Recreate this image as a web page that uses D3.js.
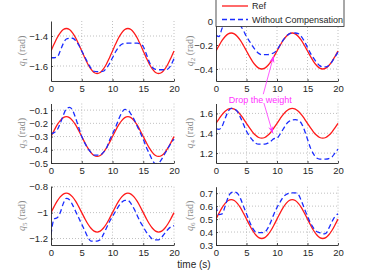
<!DOCTYPE html>
<html><head><meta charset="utf-8">
<script src="https://cdn.jsdelivr.net/npm/d3@7"></script>
<style>
body{margin:0;background:#fff;}
svg{display:block;font-family:"Liberation Sans",Arial,sans-serif;}
</style></head><body>
<svg id="c" width="374" height="277"></svg>
<script>
const time = [0,0.5,1,1.5,2,2.5,3,3.5,4,4.5,5,5.5,6,6.5,7,7.5,8,8.5,9,9.5,10,10.5,11,11.5,12,12.5,13,13.5,14,14.5,15,15.5,16,16.5,17,17.5,18,18.5,19,19.5,20];

const q1Ref = [-1.5,-1.454,-1.412,-1.379,-1.357,-1.35,-1.357,-1.379,-1.412,-1.454,-1.5,-1.546,-1.588,-1.621,-1.643,-1.65,-1.643,-1.621,-1.588,-1.546,-1.5,-1.454,-1.412,-1.379,-1.357,-1.35,-1.357,-1.379,-1.412,-1.454,-1.5,-1.546,-1.588,-1.621,-1.643,-1.65,-1.643,-1.621,-1.588,-1.546,-1.5];
const q1Comp = [-1.545,-1.545,-1.54,-1.5,-1.45,-1.42,-1.415,-1.415,-1.43,-1.46,-1.5,-1.54,-1.58,-1.615,-1.635,-1.638,-1.638,-1.635,-1.615,-1.585,-1.545,-1.505,-1.475,-1.455,-1.45,-1.448,-1.448,-1.448,-1.448,-1.452,-1.47,-1.52,-1.575,-1.61,-1.622,-1.625,-1.625,-1.625,-1.62,-1.595,-1.55];

const q2Ref = [-0.25,-0.204,-0.162,-0.129,-0.107,-0.1,-0.107,-0.129,-0.162,-0.204,-0.25,-0.296,-0.338,-0.371,-0.393,-0.4,-0.393,-0.371,-0.338,-0.296,-0.25,-0.204,-0.162,-0.129,-0.107,-0.1,-0.107,-0.129,-0.162,-0.204,-0.25,-0.296,-0.338,-0.371,-0.393,-0.4,-0.393,-0.371,-0.338,-0.296,-0.25];
const q2Comp = [-0.12,-0.13,-0.06,-0.03,-0.02,-0.015,-0.015,-0.025,-0.04,-0.08,-0.13,-0.17,-0.21,-0.245,-0.27,-0.28,-0.28,-0.28,-0.275,-0.265,-0.24,-0.2,-0.16,-0.128,-0.107,-0.1,-0.1,-0.105,-0.13,-0.17,-0.22,-0.27,-0.31,-0.345,-0.372,-0.383,-0.383,-0.37,-0.34,-0.3,-0.26];

const q3Ref = [-0.3,-0.254,-0.212,-0.179,-0.157,-0.15,-0.157,-0.179,-0.212,-0.254,-0.3,-0.346,-0.388,-0.421,-0.443,-0.45,-0.443,-0.421,-0.388,-0.346,-0.3,-0.254,-0.212,-0.179,-0.157,-0.15,-0.157,-0.179,-0.212,-0.254,-0.3,-0.346,-0.388,-0.421,-0.443,-0.45,-0.443,-0.421,-0.388,-0.346,-0.3];
const q3Comp = [-0.28,-0.27,-0.25,-0.2,-0.14,-0.09,-0.08,-0.1,-0.16,-0.23,-0.3,-0.35,-0.39,-0.42,-0.44,-0.44,-0.44,-0.42,-0.39,-0.33,-0.28,-0.23,-0.17,-0.12,-0.095,-0.1,-0.13,-0.17,-0.22,-0.27,-0.32,-0.38,-0.43,-0.48,-0.505,-0.5,-0.47,-0.43,-0.39,-0.35,-0.32];

const q4Ref = [1.5,1.546,1.588,1.621,1.643,1.65,1.643,1.621,1.588,1.546,1.5,1.454,1.412,1.379,1.357,1.35,1.357,1.379,1.412,1.454,1.5,1.546,1.588,1.621,1.643,1.65,1.643,1.621,1.588,1.546,1.5,1.454,1.412,1.379,1.357,1.35,1.357,1.379,1.412,1.454,1.5];
const q4Comp = [1.445,1.44,1.47,1.55,1.62,1.65,1.645,1.62,1.56,1.49,1.42,1.37,1.33,1.3,1.29,1.29,1.29,1.3,1.32,1.345,1.35,1.39,1.44,1.49,1.52,1.535,1.537,1.53,1.5,1.43,1.34,1.25,1.19,1.15,1.14,1.14,1.14,1.145,1.16,1.2,1.24];

const q5Ref = [-1,-0.954,-0.912,-0.879,-0.857,-0.85,-0.857,-0.879,-0.912,-0.954,-1,-1.046,-1.088,-1.121,-1.143,-1.15,-1.143,-1.121,-1.088,-1.046,-1,-0.954,-0.912,-0.879,-0.857,-0.85,-0.857,-0.879,-0.912,-0.954,-1,-1.046,-1.088,-1.121,-1.143,-1.15,-1.143,-1.121,-1.088,-1.046,-1];
const q5Comp = [-1.17,-1.05,-1.04,-1.0,-0.93,-0.89,-0.9,-0.94,-0.99,-1.04,-1.09,-1.14,-1.19,-1.22,-1.22,-1.22,-1.21,-1.17,-1.12,-1.07,-1.03,-0.99,-0.95,-0.92,-0.905,-0.905,-0.93,-0.97,-1.02,-1.07,-1.11,-1.15,-1.18,-1.205,-1.21,-1.21,-1.19,-1.16,-1.13,-1.11,-1.1];

const q6Ref = [0.5,0.546,0.588,0.621,0.643,0.65,0.643,0.621,0.588,0.546,0.5,0.454,0.412,0.379,0.357,0.35,0.357,0.379,0.412,0.454,0.5,0.546,0.588,0.621,0.643,0.65,0.643,0.621,0.588,0.546,0.5,0.454,0.412,0.379,0.357,0.35,0.357,0.379,0.412,0.454,0.5];
const q6Comp = [0.6,0.535,0.54,0.6,0.67,0.705,0.71,0.7,0.66,0.6,0.54,0.48,0.43,0.4,0.395,0.395,0.4,0.43,0.48,0.54,0.59,0.63,0.67,0.69,0.7,0.703,0.703,0.69,0.64,0.58,0.52,0.47,0.43,0.405,0.395,0.385,0.39,0.43,0.48,0.52,0.54];

const xTicks = [0,5,10,15,20];
const q1Ticks = [-1.6,-1.4];
const q2Ticks = [-0.4,-0.2,0];
const q3Ticks = [-0.5,-0.4,-0.3,-0.2,-0.1];
const q4Ticks = [1.2,1.4,1.6];
const q5Ticks = [-1.2,-1,-0.8];
const q6Ticks = [0.3,0.4,0.5,0.6,0.7];

const seriesNames = ["Ref","Without Compensation"];
const annotationText = "Drop the weight";
const xLabel = "time (s)";

const panels = [
  {idx:"1", ref:q1Ref, comp:q1Comp, domain:[-1.7,-1.3], ticks:q1Ticks, col:0, row:0},
  {idx:"2", ref:q2Ref, comp:q2Comp, domain:[-0.5,0], ticks:q2Ticks, col:1, row:0},
  {idx:"3", ref:q3Ref, comp:q3Comp, domain:[-0.5,-0.05], ticks:q3Ticks, col:0, row:1},
  {idx:"4", ref:q4Ref, comp:q4Comp, domain:[1.1,1.7], ticks:q4Ticks, col:1, row:1},
  {idx:"5", ref:q5Ref, comp:q5Comp, domain:[-1.25,-0.8], ticks:q5Ticks, col:0, row:2},
  {idx:"6", ref:q6Ref, comp:q6Comp, domain:[0.3,0.75], ticks:q6Ticks, col:1, row:2}
];

const colX = [[51,174],[216,338]];
const rowY = [[21,81],[103.5,163],[186.7,245]];
const labelX = [25,193];
const RED = "#ff1a1a", BLUE = "#1a2cff", AX = "#262626", MAG = "#ff33ff";

const svg = d3.select("#c");
const defs = svg.append("defs");
const scales = [];

panels.forEach((p,i)=>{
  const [x0,x1] = colX[p.col], [y0,y1] = rowY[p.row];
  const x = d3.scaleLinear().domain([0,20]).range([x0,x1]);
  const y = d3.scaleLinear().domain(p.domain).range([y1,y0]);
  scales.push({x,y});
  defs.append("clipPath").attr("id","clip"+i).append("rect")
    .attr("x",x0).attr("y",y0-0.5).attr("width",x1-x0+1).attr("height",y1-y0+1);
  const g = svg.append("g");
  // grid
  g.append("g").selectAll("line").data(xTicks.filter(d=>d>0)).join("line")
    .attr("x1",d=>x(d)).attr("x2",d=>x(d)).attr("y1",y0).attr("y2",y1)
    .attr("stroke","#b0b0b0").attr("stroke-width",0.8).attr("stroke-dasharray","1,2");
  g.append("g").selectAll("line").data(p.ticks.filter(d=>d!==p.domain[0])).join("line")
    .attr("x1",x0).attr("x2",x1).attr("y1",d=>y(d)).attr("y2",d=>y(d))
    .attr("stroke","#b0b0b0").attr("stroke-width",0.8).attr("stroke-dasharray","1,2");
  // lines
  const line = d3.line().x((d,k)=>x(time[k])).y(d=>y(d)).curve(d3.curveMonotoneX);
  const lg = g.append("g").attr("clip-path",`url(#clip${i})`);
  lg.append("path").datum(p.ref).attr("d",line).attr("fill","none")
    .attr("stroke",RED).attr("stroke-width",1.3);
  lg.append("path").datum(p.comp).attr("d",line).attr("fill","none")
    .attr("stroke",BLUE).attr("stroke-width",1.3).attr("stroke-dasharray","5,3");
  // axes
  const ax = g.append("g").attr("transform",`translate(0,${y1})`)
    .call(d3.axisBottom(x).tickValues(xTicks).tickSizeInner(-2).tickSizeOuter(0).tickPadding(4).tickFormat(d3.format("d")));
  const ay = g.append("g").attr("transform",`translate(${x0},0)`)
    .call(d3.axisLeft(y).tickValues(p.ticks).tickSizeInner(-2).tickSizeOuter(0).tickPadding(3).tickFormat(d3.format("~g")));
  [ax,ay].forEach(a=>{
    a.select(".domain").attr("stroke",AX).attr("stroke-width",0.9);
    a.selectAll(".tick line").attr("stroke",AX).attr("stroke-width",0.8);
    a.selectAll(".tick text").attr("fill",AX).attr("font-size",9.5)
      .attr("font-family","Liberation Sans, Arial, sans-serif");
  });
  // y label
  const yc = (y0+y1)/2;
  const t = g.append("text").attr("transform",`translate(${labelX[p.col]},${yc}) rotate(-90)`)
    .attr("text-anchor","middle").attr("fill","#8a8a8a")
    .attr("font-family","Liberation Serif, DejaVu Serif, serif").attr("font-size",10);
  t.append("tspan").attr("font-style","italic").text("q");
  t.append("tspan").attr("font-size",7).attr("dy",2).text(p.idx);
  t.append("tspan").attr("dy",-2).text(" (rad)");
});

// legend
const lgd = svg.append("g");
lgd.append("rect").attr("x",216).attr("y",-1).attr("width",128).attr("height",27.5)
  .attr("fill","#fff").attr("stroke",AX).attr("stroke-width",0.8);
[[RED,null,6],[BLUE,"5,3",19.5]].forEach(([c,dash,yy],k)=>{
  lgd.append("line").attr("x1",222).attr("x2",248).attr("y1",yy).attr("y2",yy)
    .attr("stroke",c).attr("stroke-width",1.3).attr("stroke-dasharray",dash);
  lgd.append("text").attr("x",252).attr("y",yy+3.3).attr("font-size",9).attr("fill",AX)
    .text(seriesNames[k]);
});

// annotation
const s2 = scales[1], s4 = scales[3];
const ann = svg.append("g");
ann.append("text").attr("x",s4.x(7.25)).attr("y",s4.y(1.71)).attr("text-anchor","middle")
  .attr("font-size",9).attr("fill",MAG).text(annotationText);
function arrow(xa,ya,xb,yb){
  ann.append("line").attr("x1",xa).attr("y1",ya).attr("x2",xb).attr("y2",yb)
    .attr("stroke",MAG).attr("stroke-width",0.8);
  const ang = Math.atan2(yb-ya,xb-xa), L=7, W=2.6;
  const bx = xb - L*Math.cos(ang), by = yb - L*Math.sin(ang);
  const px = -Math.sin(ang)*W, py = Math.cos(ang)*W;
  ann.append("path").attr("d",`M${xb},${yb}L${bx+px},${by+py}L${bx+0.35*L*Math.cos(ang)},${by+0.35*L*Math.sin(ang)}L${bx-px},${by-py}Z`)
    .attr("fill",MAG);
}
arrow(s2.x(7.75), s2.y(-0.61), s2.x(9.45), s2.y(-0.29));
arrow(s4.x(7.85), s4.y(1.705), s4.x(9.3), s4.y(1.40));

svg.append("text").attr("x",194).attr("y",268).attr("text-anchor","middle")
  .attr("font-size",10).attr("fill",AX).text(xLabel);
</script>
</body></html>
